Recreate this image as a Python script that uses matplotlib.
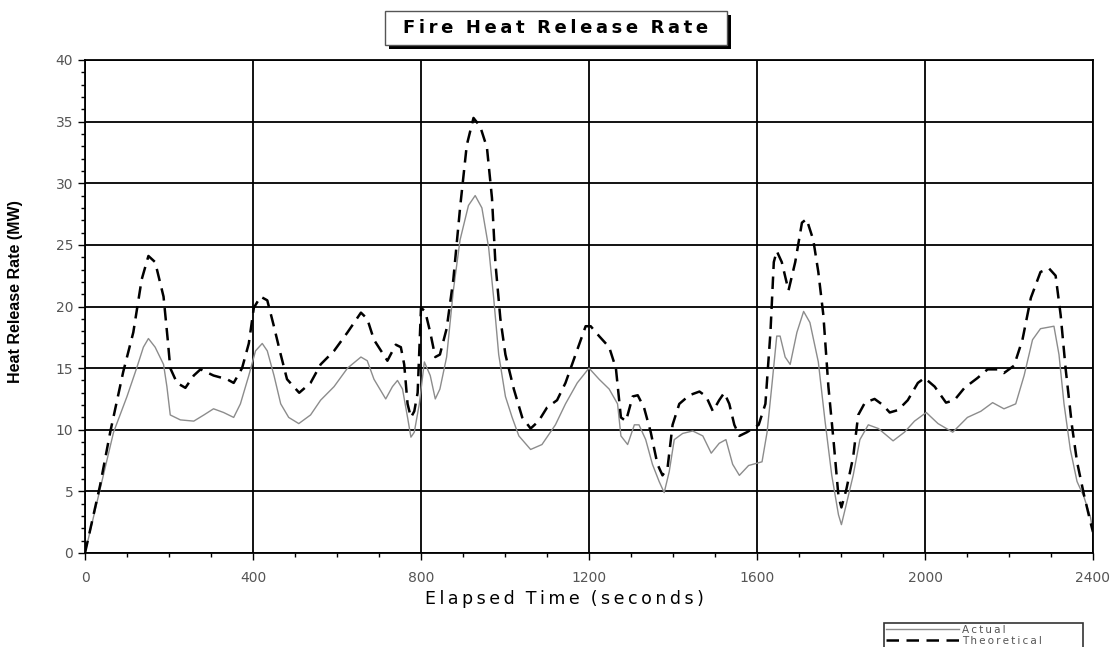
import matplotlib.pyplot as plt
from matplotlib.ticker import MultipleLocator
from matplotlib.patches import Rectangle

# elapsed time (s) and heat release rate (MW) for each curve
actual_t = [0, 36, 68, 100, 123, 139, 151, 167, 187, 195, 203, 227, 259, 283, 306, 330,
            354, 370, 390, 406, 422, 434, 450, 466, 485, 509, 537, 561, 593, 625, 657,
            672, 688, 716, 732, 744, 756, 768, 776, 784, 796, 808, 822, 834, 845, 861,
            877, 893, 913, 929, 945, 961, 973, 985, 1001, 1017, 1033, 1061, 1088, 1120,
            1144, 1172, 1200, 1224, 1248, 1268, 1276, 1292, 1308, 1319, 1335, 1351, 1367,
            1379, 1391, 1403, 1423, 1447, 1471, 1491, 1510, 1526, 1542, 1558, 1580, 1612,
            1624, 1636, 1647, 1655, 1667, 1679, 1695, 1711, 1726, 1746, 1762, 1778, 1794,
            1801, 1813, 1829, 1845, 1865, 1889, 1924, 1951, 1975, 2003, 2031, 2066, 2101,
            2133, 2161, 2188, 2216, 2236, 2256, 2275, 2307, 2319, 2331, 2346, 2362, 2378,
            2394, 2400]
actual_hrr = [0, 5.2, 9.8, 12.7, 15.0, 16.7, 17.4, 16.7, 15.3, 13.5, 11.2, 10.8, 10.7,
              11.2, 11.7, 11.4, 11.0, 12.1, 14.4, 16.4, 17.0, 16.4, 14.4, 12.1, 11.0, 10.5,
              11.2, 12.4, 13.5, 15.0, 15.9, 15.6, 14.1, 12.5, 13.5, 14.0, 13.3, 11.0, 9.4,
              9.8, 12.1, 15.5, 14.4, 12.5, 13.3, 15.9, 21.3, 25.4, 28.2, 29.0, 28.0, 24.8,
              20.7, 16.1, 12.7, 11.0, 9.5, 8.4, 8.8, 10.4, 12.1, 13.8, 15.0, 14.1, 13.3,
              12.1, 9.5, 8.8, 10.4, 10.4, 9.2, 7.2, 5.8, 4.9, 6.6, 9.2, 9.7, 9.9, 9.5, 8.1,
              8.9, 9.2, 7.2, 6.3, 7.1, 7.4, 9.8, 13.8, 17.6, 17.6, 15.9, 15.3, 17.9, 19.6,
              18.7, 15.5, 10.7, 6.3, 3.1, 2.3, 4.0, 6.3, 9.2, 10.4, 10.1, 9.1, 9.8, 10.7,
              11.4, 10.5, 9.8, 11.0, 11.5, 12.2, 11.7, 12.1, 14.4, 17.3, 18.2, 18.4, 16.1,
              12.1, 8.4, 5.8, 4.6, 2.9, 1.7]

theory_t = [0, 36, 60, 91, 115, 135, 151, 167, 187, 197, 203, 219, 239, 259, 275, 306,
            338, 354, 374, 390, 402, 418, 434, 449, 466, 481, 510, 537, 561, 593, 625,
            657, 672, 688, 720, 740, 752, 760, 768, 776, 784, 792, 800, 810, 822, 834,
            845, 861, 877, 893, 909, 925, 941, 957, 969, 977, 989, 1001, 1021, 1041,
            1061, 1080, 1100, 1124, 1144, 1168, 1192, 1204, 1224, 1248, 1264, 1276, 1288,
            1304, 1316, 1331, 1347, 1363, 1375, 1387, 1399, 1415, 1439, 1463, 1479, 1495,
            1510, 1522, 1534, 1546, 1558, 1576, 1604, 1620, 1632, 1640, 1647, 1659, 1675,
            1691, 1707, 1718, 1734, 1746, 1758, 1770, 1782, 1794, 1801, 1813, 1829, 1841,
            1857, 1880, 1900, 1916, 1936, 1959, 1983, 1999, 2023, 2050, 2070, 2094, 2125,
            2149, 2173, 2188, 2212, 2232, 2252, 2275, 2295, 2311, 2323, 2335, 2350, 2362,
            2378, 2394, 2400]
theory_hrr = [0, 5.5, 9.8, 14.7, 17.9, 22.2, 24.1, 23.6, 20.8, 17.3, 15.0, 13.8, 13.4,
              14.4, 14.9, 14.4, 14.1, 13.8, 15.0, 17.0, 19.9, 20.8, 20.5, 18.5, 16.1, 14.1,
              13.0, 13.8, 15.3, 16.4, 17.9, 19.5, 19.0, 17.3, 15.6, 16.9, 16.7, 15.3, 12.1,
              11.0, 11.5, 13.0, 19.9, 19.6, 17.9, 15.9, 16.1, 18.2, 22.2, 28.0, 33.1, 35.3,
              34.6, 32.9, 28.8, 23.6, 19.0, 16.1, 13.3, 11.0, 10.1, 10.7, 11.8, 12.4, 13.8,
              16.1, 18.4, 18.4, 17.6, 16.7, 15.0, 11.0, 10.7, 12.7, 12.8, 11.8, 9.8, 7.2,
              6.3, 6.9, 10.4, 12.1, 12.8, 13.1, 12.7, 11.5, 12.4, 13.0, 12.1, 10.4, 9.5,
              9.8, 10.4, 12.1, 17.9, 23.6, 24.5, 23.6, 21.3, 23.6, 26.8, 27.1, 25.4, 22.8,
              19.3, 13.5, 9.2, 4.6, 3.7, 5.2, 7.8, 11.2, 12.2, 12.5, 12.0, 11.4, 11.6, 12.4,
              13.8, 14.2, 13.5, 12.2, 12.4, 13.4, 14.2, 14.9, 14.9, 14.6, 15.2, 17.3, 20.7,
              22.8, 23.1, 22.5, 19.3, 14.9, 10.3, 7.4, 4.8, 2.5, 1.7]


def spaced(text):
    # widen the letter spacing with thin spaces
    return '  '.join('\u2009'.join(w) for w in text.split(' '))


W, H = 1120, 647
fig = plt.figure(figsize=(W / 100, H / 100), dpi=100)
ax = fig.add_axes([85 / W, 1 - 553 / H, 1008 / W, 493 / H])

ax.plot(actual_t, actual_hrr, color='#8c8c8c', lw=1.0, label=spaced('Actual'))
ax.plot(theory_t, theory_hrr, color='black', lw=1.8, dashes=(5, 3),
        label=spaced('Theoretical'))

ax.set_xlim(0, 2400)
ax.set_ylim(0, 40)
ax.xaxis.set_major_locator(MultipleLocator(400))
ax.xaxis.set_minor_locator(MultipleLocator(100))
ax.yaxis.set_major_locator(MultipleLocator(5))
ax.yaxis.set_minor_locator(MultipleLocator(1))
ax.grid(which='major', color='black', lw=1.3)
ax.tick_params(which='major', length=5, width=1, labelsize=10, labelcolor='#555555',
               direction='out')
ax.tick_params(which='minor', length=3, width=1, direction='out')
ax.tick_params(axis='x', pad=8)
for s in ax.spines.values():
    s.set_linewidth(1.3)

ax.set_xlabel(spaced('Elapsed Time (seconds)'), fontsize=12.5)
ax.xaxis.set_label_coords((564 - 85) / 1008, -0.075)
ax.set_ylabel('Heat Release Rate (MW)', fontsize=11.5, fontweight='bold',
              family=['Liberation Sans', 'DejaVu Sans'])
ax.yaxis.set_label_coords(-0.062, 0.53)

# boxed title with a drop shadow
fig.patches.append(Rectangle((389 / W, 1 - 49 / H), 342 / W, 34 / H,
                             transform=fig.transFigure, fc='black', ec='none'))
fig.patches.append(Rectangle((385 / W, 1 - 45 / H), 342 / W, 34 / H,
                             transform=fig.transFigure, fc='white', ec='#555555', lw=1))
fig.text(556 / W, 1 - 28 / H, spaced('Fire Heat Release Rate'), ha='center',
         va='center', fontsize=13, fontweight='bold')

leg = fig.legend(loc='upper left', bbox_to_anchor=(884 / W, 1 - 623 / H), fontsize=7.5,
                 frameon=True, fancybox=False, edgecolor='black', handlelength=7,
                 borderpad=0.2, labelspacing=0.05, handletextpad=0.3,
                 borderaxespad=0)
leg.get_frame().set_linewidth(1.2)
for t in leg.get_texts():
    t.set_color('#555555')
    t.set_text(t.get_text() + '            ')

fig.savefig('out.png', dpi=100)
